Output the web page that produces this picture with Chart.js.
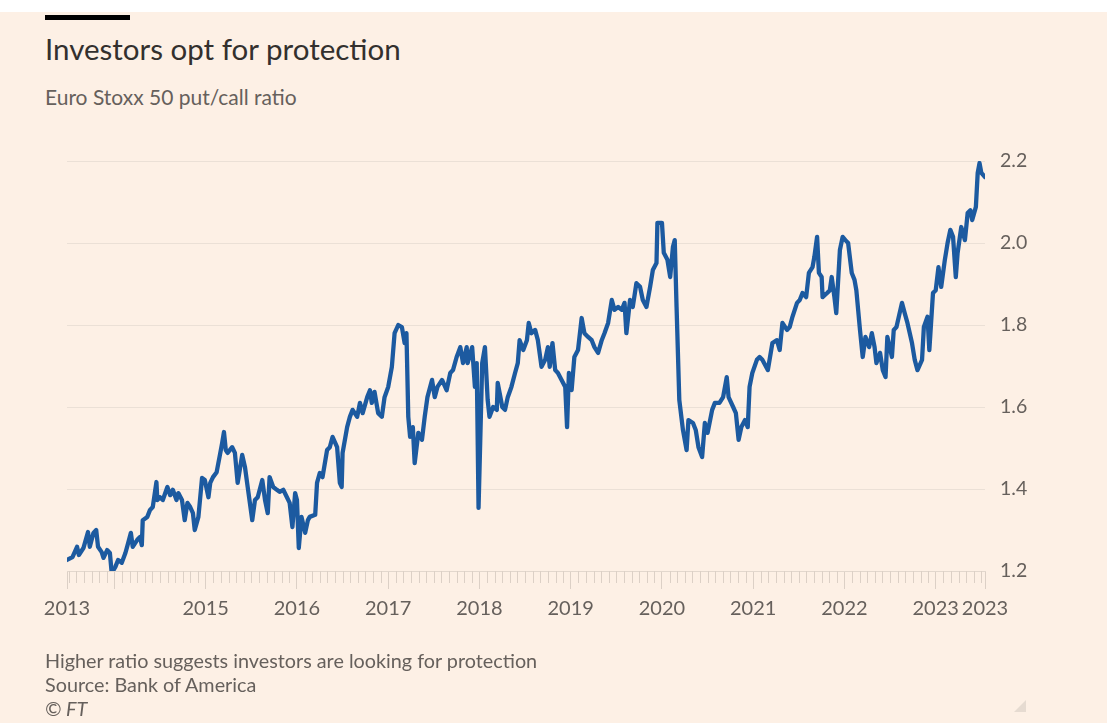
<!DOCTYPE html>
<html>
<head>
<meta charset="utf-8">
<title>Investors opt for protection</title>
<script src="https://cdn.jsdelivr.net/npm/chart.js@4/dist/chart.umd.min.js"></script>
<style>
  html, body { margin: 0; padding: 0; }
  body {
    width: 1107px; height: 723px; position: relative; overflow: hidden;
    background: #fdf0e5; font-family: Lato, "Noto Sans", sans-serif;
  }
  .strip { position: absolute; left: 0; top: 0; width: 1107px; height: 12px; background: #fff; }
  .bar { position: absolute; left: 45px; top: 15px; width: 85px; height: 5px; background: #000; }
  .title { position: absolute; left: 45px; top: 34px; font-size: 29.5px; line-height: 30px; color: #33302e; }
  .subtitle { position: absolute; left: 45px; top: 86px; font-size: 21px; line-height: 21px; color: #66605c; }
  .note { position: absolute; left: 45px; font-size: 19.8px; line-height: 20px; color: #66605c; }
  .grip {
    position: absolute; left: 1014px; top: 700px; width: 0; height: 0;
    border-left: 12px solid transparent; border-bottom: 12px solid #e6dbd1;
  }
  #chart { position: absolute; left: 0; top: 0; }
</style>
</head>
<body>
<div class="strip"></div>
<div class="bar"></div>
<div class="title">Investors opt for protection</div>
<div class="subtitle">Euro Stoxx 50 put/call ratio</div>
<canvas id="chart" width="1107" height="723"></canvas>
<div class="note" style="top:650px">Higher ratio suggests investors are looking for protection</div>
<div class="note" style="top:674px">Source: Bank of America</div>
<div class="note" style="top:698px"><i>© FT</i></div>
<div class="grip"></div>

<script>
// weekly put/call readings, dates as decimal years
const dates = [
  2013.48,2013.54,2013.59,2013.61,2013.66,2013.71,2013.73,2013.77,2013.80,2013.82,
  2013.86,2013.88,2013.92,2013.95,2013.97,2014.01,2014.04,2014.08,2014.12,2014.15,
  2014.18,2014.20,2014.25,2014.28,2014.30,2014.31,2014.36,2014.39,2014.42,2014.46,
  2014.47,2014.50,2014.53,2014.58,2014.61,2014.64,2014.68,2014.70,2014.74,2014.77,
  2014.80,2014.83,2014.86,2014.88,2014.92,2014.96,2014.99,2015.03,2015.05,2015.08,
  2015.12,2015.16,2015.18,2015.20,2015.22,2015.24,2015.29,2015.32,2015.35,2015.40,
  2015.43,2015.46,2015.51,2015.54,2015.57,2015.62,2015.65,2015.68,2015.70,2015.74,
  2015.78,2015.81,2015.85,2015.89,2015.92,2015.95,2015.98,2016.00,2016.02,2016.05,
  2016.09,2016.12,2016.14,2016.20,2016.22,2016.25,2016.28,2016.33,2016.36,2016.39,
  2016.44,2016.47,2016.49,2016.50,2016.55,2016.58,2016.61,2016.66,2016.69,2016.72,
  2016.77,2016.80,2016.82,2016.85,2016.89,2016.93,2016.96,2017.00,2017.04,2017.07,
  2017.11,2017.15,2017.18,2017.20,2017.22,2017.24,2017.27,2017.29,2017.33,2017.37,
  2017.40,2017.43,2017.48,2017.51,2017.54,2017.59,2017.64,2017.68,2017.71,2017.75,
  2017.79,2017.82,2017.86,2017.87,2017.92,2017.95,2017.97,2017.99,2018.03,2018.06,
  2018.09,2018.11,2018.15,2018.19,2018.20,2018.25,2018.28,2018.31,2018.35,2018.39,
  2018.42,2018.44,2018.48,2018.52,2018.54,2018.57,2018.61,2018.64,2018.68,2018.72,
  2018.75,2018.77,2018.80,2018.83,2018.86,2018.90,2018.94,2018.96,2018.98,2019.01,
  2019.04,2019.08,2019.12,2019.15,2019.19,2019.23,2019.26,2019.30,2019.34,2019.37,
  2019.41,2019.45,2019.48,2019.52,2019.56,2019.59,2019.61,2019.65,2019.68,2019.72,
  2019.76,2019.79,2019.83,2019.87,2019.90,2019.94,2019.95,2020.00,2020.02,2020.06,
  2020.09,2020.12,2020.14,2020.16,2020.19,2020.23,2020.27,2020.29,2020.34,2020.37,
  2020.40,2020.44,2020.47,2020.50,2020.55,2020.58,2020.63,2020.67,2020.71,2020.73,
  2020.78,2020.81,2020.84,2020.87,2020.91,2020.94,2020.96,2020.99,2021.04,2021.07,
  2021.10,2021.16,2021.21,2021.26,2021.29,2021.32,2021.37,2021.40,2021.43,2021.48,
  2021.51,2021.54,2021.58,2021.61,2021.65,2021.67,2021.70,2021.72,2021.75,2021.76,
  2021.81,2021.84,2021.86,2021.89,2021.91,2021.95,2021.98,2022.01,2022.04,2022.08,
  2022.11,2022.13,2022.17,2022.20,2022.23,2022.27,2022.30,2022.33,2022.35,2022.39,
  2022.42,2022.45,2022.47,2022.52,2022.54,2022.57,2022.63,2022.66,2022.69,2022.74,
  2022.77,2022.80,2022.85,2022.87,2022.91,2022.93,2022.97,2023.00,2023.03,2023.06,
  2023.10,2023.13,2023.16,2023.19,2023.22,2023.24,2023.28,2023.32,2023.35,2023.38,
  2023.40,2023.44,2023.46,2023.48,2023.50,2023.54
];

const ratio = [
  1.227,1.234,1.259,1.239,1.256,1.295,1.259,1.293,1.300,1.259,
  1.246,1.232,1.251,1.244,1.195,1.210,1.227,1.220,1.244,1.268,
  1.293,1.259,1.276,1.283,1.263,1.324,1.332,1.349,1.356,1.417,
  1.373,1.380,1.373,1.405,1.385,1.398,1.373,1.390,1.373,1.324,
  1.366,1.356,1.341,1.300,1.332,1.427,1.422,1.380,1.415,1.429,
  1.441,1.488,1.512,1.539,1.495,1.488,1.502,1.488,1.415,1.483,
  1.454,1.405,1.324,1.373,1.380,1.422,1.373,1.341,1.429,1.405,
  1.398,1.393,1.398,1.380,1.366,1.307,1.390,1.373,1.256,1.332,
  1.293,1.324,1.332,1.337,1.415,1.439,1.429,1.495,1.502,1.527,
  1.502,1.415,1.405,1.488,1.551,1.576,1.593,1.576,1.610,1.585,
  1.624,1.641,1.610,1.637,1.585,1.576,1.624,1.649,1.698,1.780,
  1.800,1.795,1.756,1.780,1.576,1.527,1.551,1.463,1.537,1.520,
  1.576,1.624,1.666,1.624,1.649,1.666,1.641,1.683,1.690,1.722,
  1.746,1.707,1.746,1.707,1.746,1.649,1.707,1.354,1.707,1.746,
  1.617,1.576,1.600,1.593,1.659,1.600,1.593,1.624,1.649,1.683,
  1.707,1.763,1.739,1.763,1.805,1.780,1.788,1.763,1.698,1.715,
  1.746,1.698,1.756,1.690,1.683,1.666,1.649,1.551,1.683,1.641,
  1.722,1.739,1.817,1.780,1.771,1.763,1.746,1.732,1.763,1.780,
  1.805,1.861,1.837,1.844,1.837,1.854,1.780,1.861,1.844,1.902,
  1.893,1.861,1.844,1.893,1.934,1.951,2.049,2.049,1.976,1.959,
  1.917,1.990,2.007,1.844,1.617,1.544,1.495,1.568,1.561,1.544,
  1.502,1.478,1.561,1.537,1.593,1.610,1.610,1.624,1.673,1.624,
  1.600,1.585,1.520,1.551,1.568,1.551,1.649,1.683,1.715,1.722,
  1.715,1.690,1.756,1.763,1.739,1.805,1.788,1.795,1.820,1.854,
  1.861,1.878,1.868,1.927,1.941,1.966,2.015,1.927,1.917,1.868,
  1.878,1.885,1.917,1.868,1.829,1.983,2.015,2.007,2.000,1.927,
  1.910,1.885,1.788,1.722,1.771,1.746,1.780,1.746,1.707,1.732,
  1.690,1.673,1.771,1.722,1.788,1.795,1.854,1.829,1.805,1.756,
  1.715,1.690,1.715,1.795,1.820,1.739,1.878,1.885,1.941,1.893,
  1.959,2.000,2.032,2.015,1.917,1.976,2.039,2.007,2.073,2.080,
  2.056,2.088,2.171,2.195,2.171,2.161
];

const xStart = 2013.48;
const xEnd = 2023.54;
const xTickValues = [2013.48, 2014, 2015, 2016, 2017, 2018, 2019, 2020, 2021, 2022, 2023, 2023.54];
const xTickLabels = ['2013', '', '2015', '2016', '2017', '2018', '2019', '2020', '2021', '2022', '2023', '2023'];
const yTickValues = [1.2, 1.4, 1.6, 1.8, 2.0, 2.2];

const axisText = '#66605c';
const gridColor = '#ebe0d6';
const tickMarkColor = '#dcd0c6';

// short monthly marks under the x axis, between the yearly ticks
const monthTicks = {
  id: 'monthTicks',
  afterDraw(chart) {
    const x = chart.scales.x;
    const ctx = chart.ctx;
    const base = chart.chartArea.bottom;
    ctx.save();
    ctx.strokeStyle = tickMarkColor;
    ctx.lineWidth = 1;
    ctx.beginPath();
    for (let yr = 2013; yr <= 2023; yr++) {
      for (let m = 1; m < 12; m++) {
        const v = yr + m / 12;
        if (v <= xStart || v >= xEnd) continue;
        const px = Math.round(x.getPixelForValue(v)) + 0.5;
        ctx.moveTo(px, base);
        ctx.lineTo(px, base + 12);
      }
    }
    ctx.stroke();
    ctx.restore();
  }
};

const ctx = document.getElementById('chart').getContext('2d');
new Chart(ctx, {
  type: 'line',
  data: {
    datasets: [{
      data: dates.map((d, i) => ({ x: d, y: ratio[i] })),
      borderColor: '#1c5aa0',
      borderWidth: 4.3,
      pointRadius: 0,
      tension: 0,
      borderJoinStyle: 'round',
      borderCapStyle: 'round'
    }]
  },
  options: {
    responsive: false,
    animation: false,
    layout: { padding: { left: 67, top: 161, right: 0, bottom: 0 } },
    plugins: { legend: { display: false }, tooltip: { enabled: false } },
    scales: {
      x: {
        type: 'linear',
        min: xStart,
        max: xEnd,
        afterBuildTicks: s => { s.ticks = xTickValues.map(v => ({ value: v })); },
        afterFit: s => { s.height = 152; },
        grid: { drawOnChartArea: false, drawTicks: true, tickLength: 18, color: tickMarkColor, lineWidth: 1 },
        border: { display: true, color: '#e2d7cd' },
        ticks: {
          autoSkip: false, maxRotation: 0, padding: 8, color: axisText,
          font: { family: 'Lato', size: 20 },
          callback: (v, i) => xTickLabels[i]
        }
      },
      y: {
        position: 'right',
        min: 1.2,
        max: 2.2,
        afterBuildTicks: s => { s.ticks = yTickValues.map(v => ({ value: v })); },
        afterFit: s => { s.width = 122; },
        grid: { color: gridColor, drawTicks: false, lineWidth: 1 },
        border: { display: false },
        ticks: {
          padding: 15, color: axisText,
          font: { family: 'Lato', size: 19.5 },
          callback: v => v.toFixed(1)
        }
      }
    }
  },
  plugins: [monthTicks]
});
</script>
</body>
</html>
